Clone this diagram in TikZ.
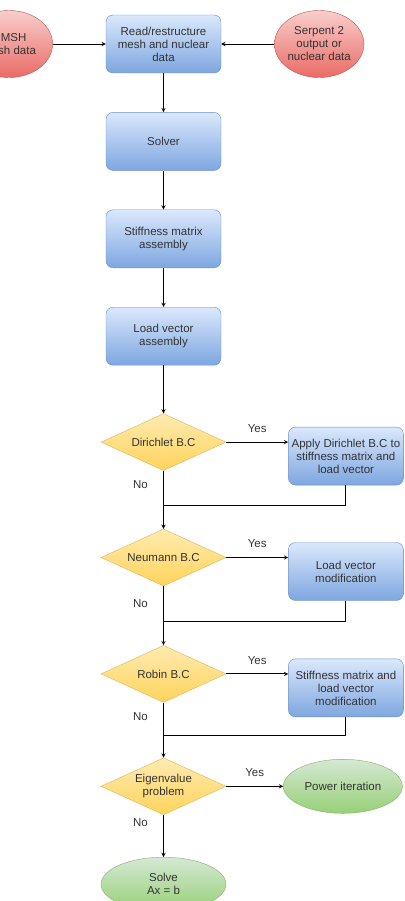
\documentclass[tikz,border=0pt]{standalone}
\usepackage{fontspec}
\setmainfont{Liberation Sans}
\usepackage{xcolor}
\usetikzlibrary{shapes.geometric, arrows, positioning}

\definecolor{boxtop}{HTML}{DAE8FC}
\definecolor{boxbot}{HTML}{7EA6E0}
\definecolor{boxline}{HTML}{6C8EBF}
\definecolor{inputtop}{HTML}{F8CECC}
\definecolor{inputbot}{HTML}{EA6B66}
\definecolor{inputline}{HTML}{B85450}
\definecolor{checktop}{HTML}{FFEBB0}
\definecolor{checkbot}{HTML}{FFD45C}
\definecolor{checkline}{HTML}{D6B656}
\definecolor{resulttop}{HTML}{D5E8D4}
\definecolor{resultbot}{HTML}{97D077}
\definecolor{resultline}{HTML}{82B366}
\definecolor{txt}{HTML}{333333}

\begin{document}
\begin{tikzpicture}[
    node distance=39pt,
    every node/.style={text=txt, font=\fontsize{11.5}{13}\selectfont},
    box/.style={rectangle, draw=boxline, rounded corners=7pt, top color=boxtop, bottom color=boxbot, minimum width=115pt, minimum height=58pt, inner sep=2pt, align=center},
    input/.style={ellipse, draw=inputline, top color=inputtop, bottom color=inputbot, minimum width=87pt, minimum height=67pt, inner sep=0pt, align=center},
    check/.style={diamond, draw=checkline, top color=checktop, bottom color=checkbot, aspect=2.2, minimum width=125pt, minimum height=57pt, inner sep=0pt, align=center},
    result/.style={ellipse, draw=resultline, top color=resulttop, bottom color=resultbot, minimum height=54pt, inner sep=0pt, align=center},
    arrow/.style={->, >=stealth, line width=0.9pt},
    line/.style={line width=0.9pt}
]
    \useasboundingbox (0,0) rectangle (404pt,-901pt);

    \node[box] (read) at (163.5pt,-44pt) {Read/restructure\\mesh and nuclear\\data};
    \node[input, left=53pt of read] (gmsh) {GMSH\\mesh data};
    \node[input, right=53pt of read] (serpent) {Serpent 2\\output or\\nuclear data};
    \node[box, below=of read] (solver) {Solver};
    \node[box, below=of solver] (stiff) {Stiffness matrix\\assembly};
    \node[box, below=of stiff] (load) {Load vector\\assembly};
    \node[check, below=48pt of load] (dirichlet) {Dirichlet B.C};
    \node[box, right=62pt of dirichlet, yshift=-14pt] (applydir) {Apply Dirichlet B.C to\\stiffness matrix and\\load vector};
    \node[check, below=58pt of dirichlet] (neumann) {Neumann B.C};
    \node[box, right=62pt of neumann, yshift=-14pt] (loadmod) {Load vector\\modification};
    \node[check, below=59pt of neumann] (robin) {Robin B.C};
    \node[box, right=62pt of robin, yshift=-14pt] (stiffmod) {Stiffness matrix and\\load vector\\modification};
    \node[check, below=55pt of robin] (eigen) {Eigenvalue\\problem};
    \node[result, minimum width=119pt, right=57pt of eigen] (power) {Power iteration};
    \node[result, minimum width=125pt, below=42pt of eigen] (solve) {Solve\\Ax = b};

    % where the side branches join the main line again
    \coordinate[below=35pt of dirichlet] (join1);
    \coordinate[below=35pt of neumann] (join2);
    \coordinate[below=33pt of robin] (join3);

    \draw[arrow] (gmsh) -- (read);
    \draw[arrow] (serpent) -- (read);
    \draw[arrow] (read) -- (solver);
    \draw[arrow] (solver) -- (stiff);
    \draw[arrow] (stiff) -- (load);
    \draw[arrow] (load) -- (dirichlet);

    \draw[arrow] (dirichlet) -- node[above=6pt] {Yes} (dirichlet.east -| applydir.west);
    \draw[arrow] (dirichlet) -- node[pos=0.23, left=12pt] {No} (neumann);
    \draw[line] (applydir) |- (join1);

    \draw[arrow] (neumann) -- node[above=6pt] {Yes} (neumann.east -| loadmod.west);
    \draw[arrow] (neumann) -- node[pos=0.3, left=12pt] {No} (robin);
    \draw[line] (loadmod) |- (join2);

    \draw[arrow] (robin) -- node[above=6pt] {Yes} (robin.east -| stiffmod.west);
    \draw[arrow] (robin) -- node[pos=0.25, left=12pt] {No} (eigen);
    \draw[line] (stiffmod) |- (join3);

    \draw[arrow] (eigen) -- node[above=6pt] {Yes} (power);
    \draw[arrow] (eigen) -- node[pos=0.18, left=12pt] {No} (solve);
\end{tikzpicture}
\end{document}
